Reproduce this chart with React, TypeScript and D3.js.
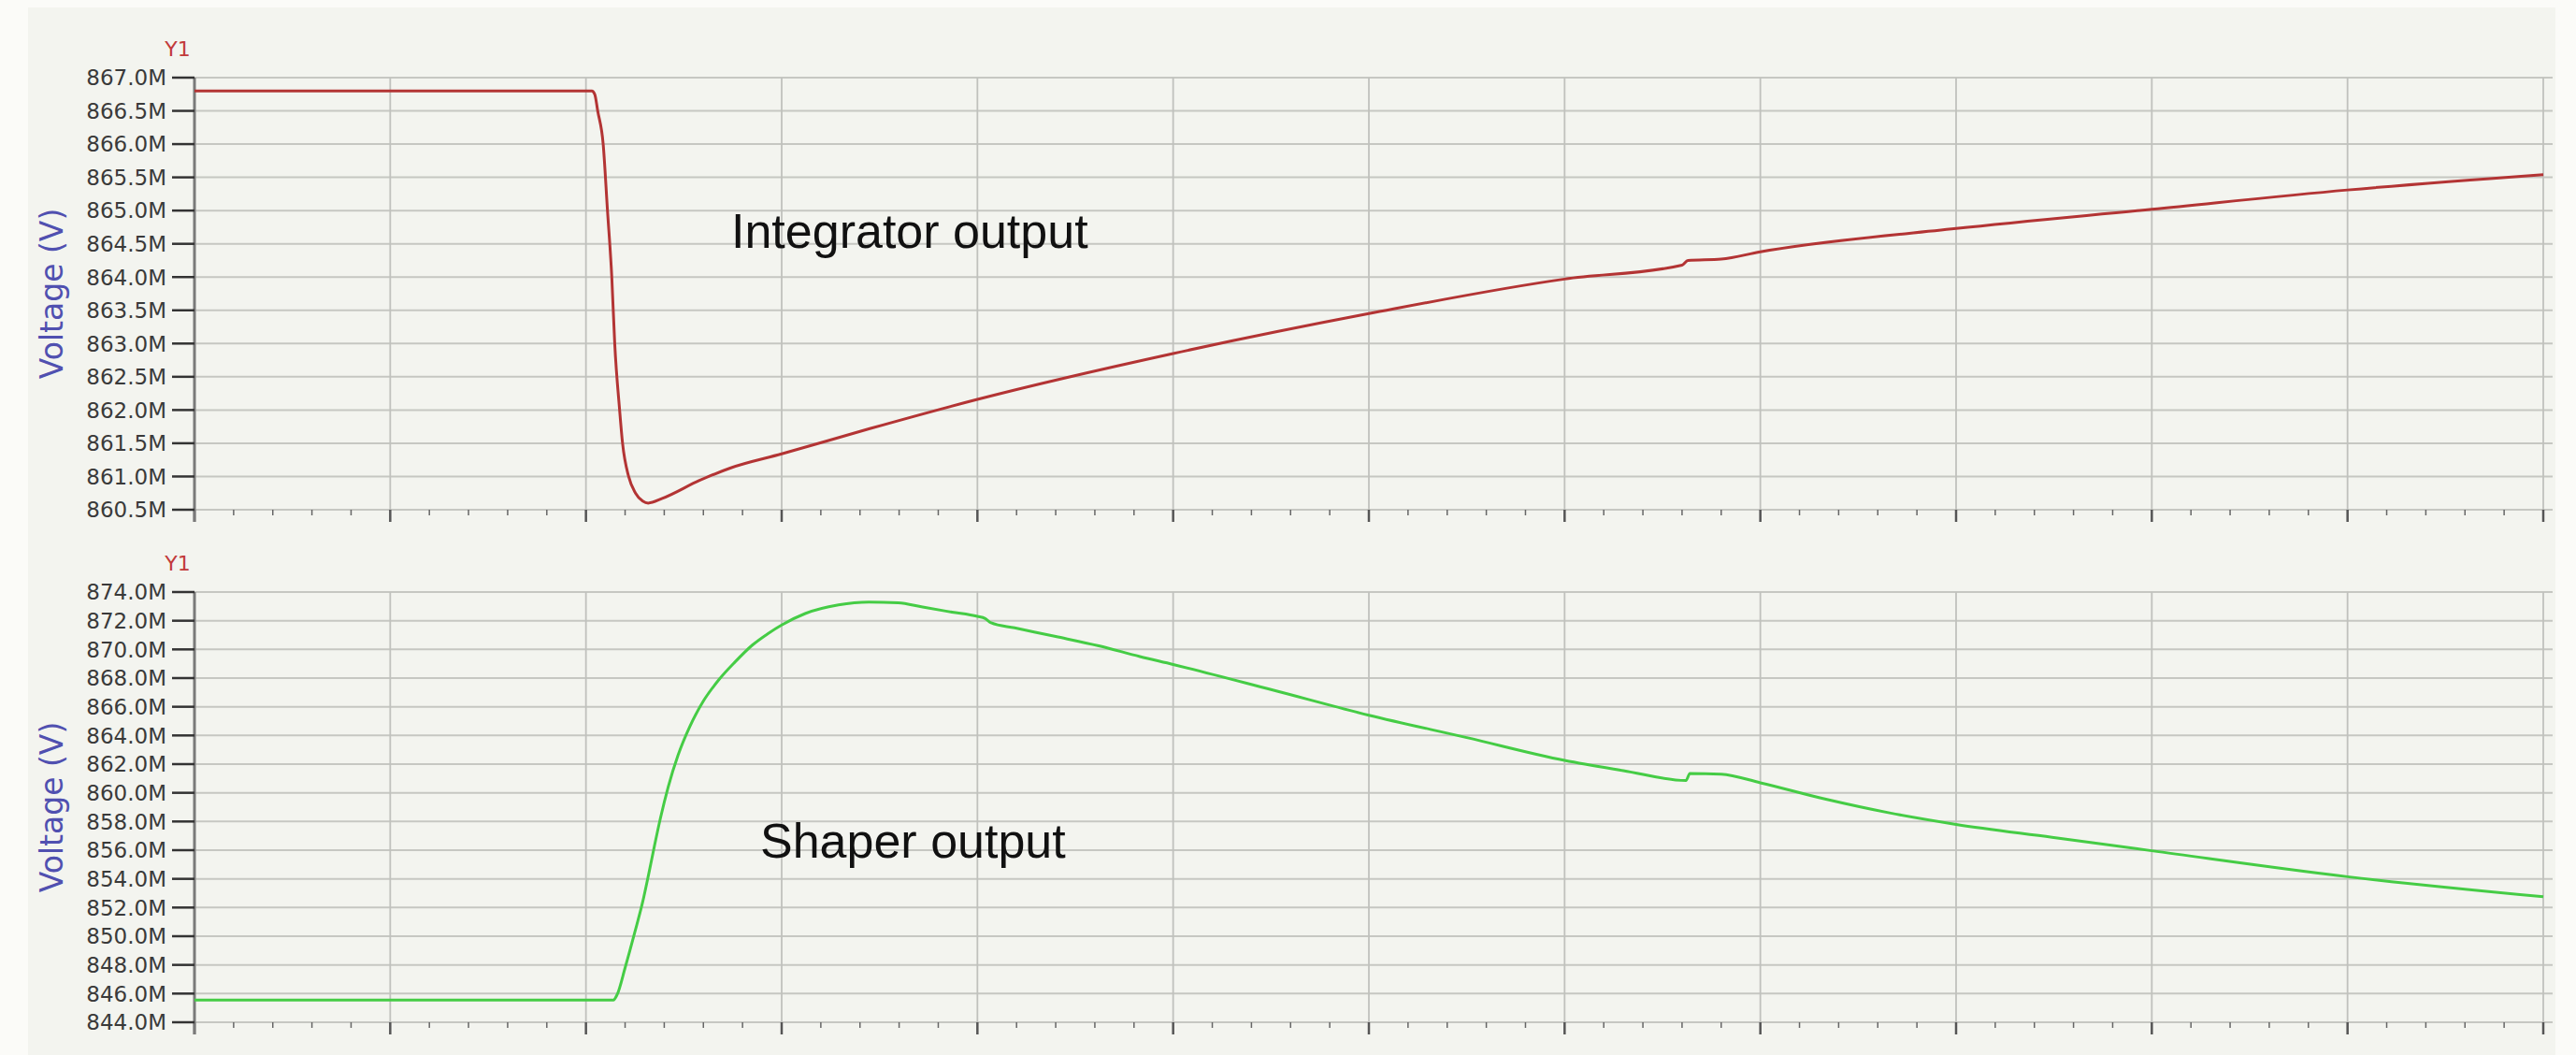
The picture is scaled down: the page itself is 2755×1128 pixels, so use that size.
import React from "react";
import * as d3 from "d3";

// Time axis in major grid divisions (no labels shown on the x axis)
const timeDomain: [number, number] = [0, 12];

// Integrator output trace: [time, voltage in M]
const integratorT = [0, 2.03, 2.045, 2.06, 2.088, 2.11, 2.132, 2.147, 2.172, 2.187, 2.218, 2.253, 2.29, 2.318, 2.39, 2.58, 2.74, 3, 3.45, 4, 5, 6, 7, 7.6, 7.63, 7.8, 8, 9, 10, 11, 12];
const integratorV = [866.8, 866.8, 866.75, 866.5, 866.0, 865.0, 864.0, 863.0, 862.0, 861.5, 861.0, 860.75, 860.63, 860.6, 860.67, 860.94, 861.13, 861.34, 861.72, 862.16, 862.85, 863.45, 863.97, 864.18, 864.25, 864.27, 864.38, 864.73, 865.02, 865.31, 865.54];

// Shaper output trace: [time, voltage in M]
const shaperT = [0, 2.14, 2.16, 2.2, 2.25, 2.29, 2.32, 2.35, 2.38, 2.42, 2.47, 2.53, 2.6, 2.68, 2.76, 2.85, 2.93, 3.0, 3.12, 3.29, 3.445, 3.595, 3.72, 3.87, 4.0, 4.04, 4.07, 4.19, 4.4, 4.62, 4.83, 5.0, 5.5, 6, 6.5, 7, 7.3, 7.62, 7.64, 7.8, 8, 8.33, 8.66, 9, 9.49, 10, 11, 12];
const shaperV = [845.55, 845.55, 845.95, 847.8, 850.3, 852.4, 854.3, 856.3, 858.2, 860.4, 862.6, 864.6, 866.4, 867.9, 869.1, 870.3, 871.1, 871.7, 872.5, 873.1, 873.3, 873.25, 872.95, 872.6, 872.3, 872.15, 871.85, 871.5, 870.9, 870.25, 869.5, 868.95, 867.2, 865.41, 863.85, 862.26, 861.55, 860.86, 861.35, 861.3, 860.7, 859.57, 858.6, 857.8, 856.9, 855.96, 854.15, 852.75];

// Y tick values (M)
const integratorTicks = [867.0, 866.5, 866.0, 865.5, 865.0, 864.5, 864.0, 863.5, 863.0, 862.5, 862.0, 861.5, 861.0, 860.5];
const shaperTicks = [874.0, 872.0, 870.0, 868.0, 866.0, 864.0, 862.0, 860.0, 858.0, 856.0, 854.0, 852.0, 850.0, 848.0, 846.0, 844.0];

const majorTimes = d3.range(timeDomain[0], timeDomain[1] + 1);
const minorTimes = d3.range(0, 61).map((i) => i / 5).filter((t) => Math.abs(t - Math.round(t)) > 1e-6);

const W = 2755;
const H = 1128;
const LEFT = 208;
const RIGHT = 2720;

const x = d3.scaleLinear().domain(timeDomain).range([LEFT, RIGHT]);
const fmt = (v: number) => d3.format(".1f")(v) + "M";

type PanelProps = {
  top: number;
  bottom: number;
  ticks: number[];
  t: number[];
  v: number[];
  color: string;
  label: string;
  labelX: number;
  labelY: number;
};

function Panel({ top, bottom, ticks, t, v, color, label, labelX, labelY }: PanelProps) {
  const y = d3.scaleLinear().domain([d3.min(ticks)!, d3.max(ticks)!]).range([bottom, top]);
  const pts = t.map((tt, i) => [tt, v[i]] as [number, number]);
  const line = d3
    .line<[number, number]>()
    .x((d) => x(d[0]))
    .y((d) => y(d[1]))
    .curve(d3.curveMonotoneX);
  const midY = (top + bottom) / 2;
  return (
    <g>
      <text x={190} y={top - 23} fill="#c23a3a" fontFamily="DejaVu Sans" fontSize={22} textAnchor="middle">
        Y1
      </text>
      <text
        transform={`translate(67,${midY}) rotate(-90)`}
        fill="#5050b0"
        fontFamily="DejaVu Sans"
        fontSize={33}
        textAnchor="middle"
      >
        Voltage (V)
      </text>
      {/* horizontal grid */}
      {ticks.map((tk) => (
        <line key={"h" + tk} x1={LEFT} x2={RIGHT + 10} y1={y(tk)} y2={y(tk)} stroke="#c6c7c2" strokeWidth={2} />
      ))}
      {/* vertical grid */}
      {majorTimes.slice(1).map((tm) => (
        <line key={"v" + tm} x1={x(tm)} x2={x(tm)} y1={top} y2={bottom} stroke="#c0c1bd" strokeWidth={1.8} />
      ))}
      {/* x-axis major/minor ticks */}
      {majorTimes.map((tm) => (
        <line key={"mt" + tm} x1={x(tm)} x2={x(tm)} y1={bottom} y2={bottom + 13} stroke="#555" strokeWidth={2.5} />
      ))}
      {minorTimes.map((tm) => (
        <line key={"mn" + tm} x1={x(tm)} x2={x(tm)} y1={bottom} y2={bottom + 6} stroke="#666" strokeWidth={1.5} />
      ))}
      {/* y axis */}
      <line x1={LEFT} x2={LEFT} y1={top} y2={bottom + 13} stroke="#7a7a7a" strokeWidth={3} />
      {ticks.map((tk) => (
        <g key={"yt" + tk}>
          <line x1={LEFT - 24} x2={LEFT} y1={y(tk)} y2={y(tk)} stroke="#333" strokeWidth={2.5} />
          <text
            x={LEFT - 30}
            y={y(tk)}
            dy="0.36em"
            textAnchor="end"
            fill="#3a3a3a"
            fontFamily="DejaVu Sans"
            fontSize={23}
          >
            {fmt(tk)}
          </text>
        </g>
      ))}
      <path d={line(pts) || ""} fill="none" stroke={color} strokeWidth={3} strokeLinejoin="round" />
      <text x={labelX} y={labelY} fill="#111" fontFamily="Liberation Sans" fontSize={52}>
        {label}
      </text>
    </g>
  );
}

export default function App() {
  return (
    <svg
      width={W}
      height={H}
      viewBox={`0 0 ${W} ${H}`}
      style={{ position: "absolute", left: 0, top: 0, display: "block" }}
    >
      <rect x={0} y={0} width={W} height={H} fill="#fbfbf8" />
      <rect x={30} y={8} width={2703} height={H - 8} fill="#f3f4ef" />
      <Panel
        top={83}
        bottom={545}
        ticks={integratorTicks}
        t={integratorT}
        v={integratorV}
        color="#b33434"
        label="Integrator output"
        labelX={782}
        labelY={265}
      />
      <Panel
        top={633}
        bottom={1093}
        ticks={shaperTicks}
        t={shaperT}
        v={shaperV}
        color="#45cc45"
        label="Shaper output"
        labelX={813}
        labelY={917}
      />
    </svg>
  );
}
